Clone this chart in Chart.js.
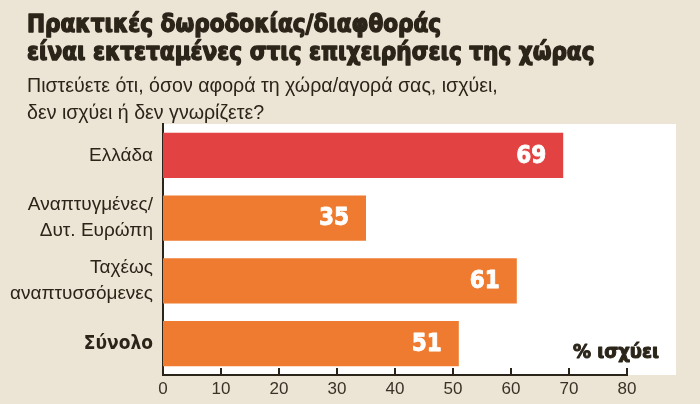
<!DOCTYPE html>
<html>
<head>
<meta charset="utf-8">
<script src="https://cdn.jsdelivr.net/npm/chart.js@4.4.1/dist/chart.umd.min.js"></script>
<style>
  html, body { margin: 0; padding: 0; background: #ece4d5; }
  canvas { display: block; }
</style>
</head>
<body>
<canvas id="myChart" width="700" height="404"></canvas>
<script>
"use strict"

// chart data
const categories = ['Ελλάδα', ['Αναπτυγμένες/', 'Δυτ. Ευρώπη'], ['Ταχέως', 'αναπτυσσόμενες'], 'Σύνολο'];
const values = [69, 35, 61, 51];
const barColors = ['#e34242', '#ee7b2f', '#ee7b2f', '#ee7b2f'];
const xTicks = [0, 10, 20, 30, 40, 50, 60, 70, 80];

const titleLines = ['Πρακτικές δωροδοκίας/διαφθοράς', 'είναι εκτεταμένες στις επιχειρήσεις της χώρας'];
const subtitleLines = ['Πιστεύετε ότι, όσον αφορά τη χώρα/αγορά σας, ισχύει,', 'δεν ισχύει ή δεν γνωρίζετε?'];
const unitLabel = '% ισχύει';

const darkText = '#2b2419';
const heavyFont = '"DejaVu Sans Condensed", "DejaVu Sans", sans-serif';

// white panel behind the bars
const panelPlugin = {
    id: 'panel',
    beforeDraw(chart) {
        const { ctx, chartArea } = chart;
        ctx.save();
        ctx.fillStyle = '#ffffff';
        ctx.fillRect(chartArea.left, chartArea.top, chartArea.right - chartArea.left + 49, chartArea.bottom - chartArea.top);
        ctx.restore();
    }
};

// heavy text: fill plus a thin stroke to thicken the glyphs
function heavyText(ctx, text, x, y, w) {
    ctx.lineWidth = w;
    ctx.strokeStyle = ctx.fillStyle;
    ctx.lineJoin = 'round';
    ctx.strokeText(text, x, y);
    ctx.fillText(text, x, y);
}

// titles, value labels, tick marks, unit label
const textPlugin = {
    id: 'texts',
    afterDatasetsDraw(chart) {
        const ctx = chart.ctx;
        const meta = chart.getDatasetMeta(0);
        ctx.save();
        ctx.fillStyle = '#ffffff';
        ctx.font = 'bold 24px ' + heavyFont;
        ctx.textAlign = 'right';
        ctx.textBaseline = 'middle';
        meta.data.forEach((bar, i) => {
            heavyText(ctx, String(values[i]), bar.x - 17, bar.y + 1, 0.8);
        });
        ctx.restore();
    },
    afterDraw(chart) {
        const { ctx, chartArea } = chart;
        const xScale = chart.scales.x;
        ctx.save();

        // tick marks pointing up
        ctx.strokeStyle = darkText;
        ctx.lineWidth = 2;
        xTicks.forEach(t => {
            const px = Math.round(xScale.getPixelForValue(t));
            ctx.beginPath();
            ctx.moveTo(px, chartArea.bottom - 7);
            ctx.lineTo(px, chartArea.bottom);
            ctx.stroke();
        });

        ctx.fillStyle = darkText;
        ctx.textAlign = 'left';
        ctx.textBaseline = 'alphabetic';
        ctx.font = 'bold 24px ' + heavyFont;
        heavyText(ctx, titleLines[0], 27, 32, 1.3);
        heavyText(ctx, titleLines[1], 27, 60, 1.3);

        ctx.font = '19.6px "Liberation Sans", Arial, sans-serif';
        ctx.fillText(subtitleLines[0], 27, 92);
        ctx.fillText(subtitleLines[1], 27, 119);

        ctx.textAlign = 'right';
        ctx.font = 'bold 20px ' + heavyFont;
        heavyText(ctx, unitLabel, chartArea.right + 32, chartArea.bottom - 17, 1);
        ctx.restore();
    }
};

const data = {
    labels: categories,
    datasets: [{
        data: values,
        backgroundColor: barColors,
        borderWidth: 0,
        categoryPercentage: 1,
        barPercentage: 0.72
    }]
};

const config = {
    type: 'bar',
    data: data,
    options: {
        indexAxis: 'y',
        responsive: false,
        animation: false,
        layout: {
            padding: { left: 0, top: 124, right: 73, bottom: 0 }
        },
        plugins: {
            legend: { display: false },
            tooltip: { enabled: false }
        },
        scales: {
            x: {
                min: 0,
                max: 80,
                afterFit: (s) => { s.height = 29; },
                afterBuildTicks: (s) => { s.ticks = xTicks.map(v => ({ value: v })); },
                grid: { display: false, drawTicks: false },
                border: { display: true, color: darkText, width: 2 },
                ticks: {
                    color: '#3a3226',
                    padding: 4,
                    font: { family: '"Liberation Sans Narrow", "Liberation Sans", Arial, sans-serif', size: 17 }
                }
            },
            y: {
                afterFit: (s) => { s.width = 163; },
                grid: { display: false, drawTicks: false },
                border: { display: true, color: darkText, width: 2 },
                ticks: {
                    color: darkText,
                    padding: 10,
                    font: (ctx) => ({
                        family: ctx.index === 3 ? heavyFont : '"Liberation Sans", Arial, sans-serif',
                        size: 19,
                        weight: ctx.index === 3 ? 'bold' : 'normal',
                        lineHeight: 1.38
                    })
                }
            }
        }
    },
    plugins: [panelPlugin, textPlugin]
};

let canvasChart = document.getElementById('myChart');
const myChart = new Chart(canvasChart, config);
</script>
</body>
</html>
